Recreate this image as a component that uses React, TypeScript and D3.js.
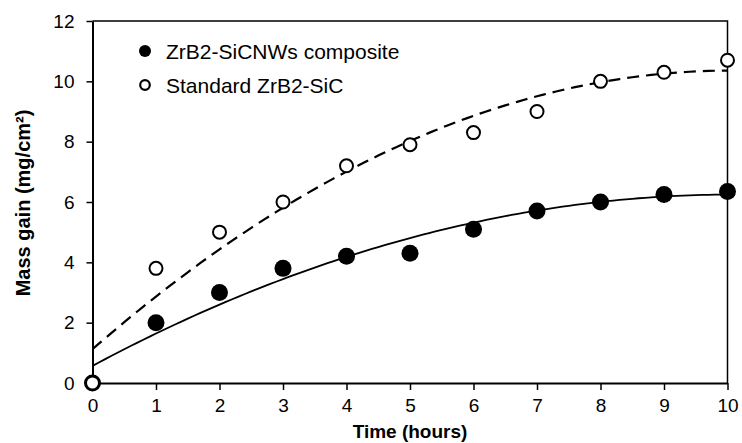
import * as d3 from "d3";
import { useEffect, useRef } from "react";

// ---- data ----
const hours = [0, 1, 2, 3, 4, 5, 6, 7, 8, 9, 10];
const compositeGain = [0, 2.0, 3.0, 3.8, 4.2, 4.3, 5.1, 5.7, 6.0, 6.25, 6.35];
const standardGain = [0, 3.8, 5.0, 6.0, 7.2, 7.9, 8.3, 9.0, 10.0, 10.3, 10.7];
const xTicks = [0, 1, 2, 3, 4, 5, 6, 7, 8, 9, 10];
const yTicks = [0, 2, 4, 6, 8, 10, 12];
const seriesNames = ["ZrB2-SiCNWs composite", "Standard ZrB2-SiC"];

// quadratic least-squares trendline (like the spreadsheet's polynomial fit)
function quadFit(xs: number[], ys: number[]) {
  const s = [0, 0, 0, 0, 0];
  const t = [0, 0, 0];
  xs.forEach((x, i) => {
    for (let k = 0; k < 5; k++) s[k] += Math.pow(x, k);
    for (let k = 0; k < 3; k++) t[k] += Math.pow(x, k) * ys[i];
  });
  const A = [
    [s[0], s[1], s[2], t[0]],
    [s[1], s[2], s[3], t[1]],
    [s[2], s[3], s[4], t[2]],
  ];
  for (let c = 0; c < 3; c++) {
    for (let r = c + 1; r < 3; r++) {
      const f = A[r][c] / A[c][c];
      for (let k = c; k < 4; k++) A[r][k] -= f * A[c][k];
    }
  }
  const b = [0, 0, 0];
  for (let r = 2; r >= 0; r--) {
    let v = A[r][3];
    for (let k = r + 1; k < 3; k++) v -= A[r][k] * b[k];
    b[r] = v / A[r][r];
  }
  return (x: number) => b[0] + b[1] * x + b[2] * x * x;
}

export default function App() {
  const ref = useRef<SVGSVGElement>(null);

  useEffect(() => {
    const width = 742;
    const height = 443;
    const left = 92.5, right = 727.5, top = 21, bottom = 383;
    const font = "Arial, 'Liberation Sans', sans-serif";

    const svg = d3.select(ref.current);
    svg.selectAll("*").remove();
    svg.attr("width", width).attr("height", height);

    const x = d3.scaleLinear().domain([0, 10]).range([left, right]);
    const y = d3.scaleLinear().domain([0, 12]).range([bottom, top]);

    // ---- frame (top/right) ----
    svg.append("path")
      .attr("d", `M${left},${top}H${right}V${bottom}`)
      .attr("fill", "none")
      .attr("stroke", "#000")
      .attr("stroke-width", 1.5);

    // ---- x axis ----
    const gx = svg.append("g").attr("transform", `translate(0,${bottom})`);
    gx.call(
      d3.axisBottom(x).tickValues(d3.range(0, 10.001, 0.2)).tickSize(4).tickFormat(() => "")
    );
    gx.call(d3.axisBottom(x).tickValues(xTicks).tickSize(7).tickSizeOuter(0).tickPadding(9));
    gx.selectAll(".domain").attr("stroke-width", 2);
    gx.selectAll("line").attr("stroke-width", 1.5);
    gx.selectAll("text").attr("font-family", font).attr("font-size", 19).attr("fill", "#000");

    // ---- y axis ----
    const gy = svg.append("g").attr("transform", `translate(${left},0)`);
    gy.call(d3.axisLeft(y).tickValues(yTicks).tickSize(6).tickSizeOuter(0).tickPadding(12));
    gy.selectAll(".domain").attr("stroke-width", 2);
    gy.selectAll("line").attr("stroke-width", 1.5);
    gy.selectAll("text").attr("font-family", font).attr("font-size", 19).attr("fill", "#000");

    // ---- trendlines ----
    const samples = d3.range(0, 10.0001, 0.1);
    const fits = [quadFit(hours, compositeGain), quadFit(hours, standardGain)];
    const line = (f: (v: number) => number) =>
      d3.line<number>().x((d) => x(d)).y((d) => y(f(d)))(samples);

    svg.append("path")
      .attr("d", line(fits[0]))
      .attr("fill", "none")
      .attr("stroke", "#000")
      .attr("stroke-width", 1.8);

    svg.append("path")
      .attr("d", line(fits[1]))
      .attr("fill", "none")
      .attr("stroke", "#000")
      .attr("stroke-width", 2.2)
      .attr("stroke-dasharray", "12,7");

    // ---- points ----
    svg.append("g")
      .selectAll("circle")
      .data(compositeGain)
      .join("circle")
      .attr("cx", (_, i) => x(hours[i]))
      .attr("cy", (d) => y(d))
      .attr("r", 8.5)
      .attr("fill", "#000");

    svg.append("g")
      .selectAll("circle")
      .data(standardGain)
      .join("circle")
      .attr("cx", (_, i) => x(hours[i]))
      .attr("cy", (d) => y(d))
      .attr("r", 6.5)
      .attr("fill", "#fff")
      .attr("stroke", "#000")
      .attr("stroke-width", 2);

    // ---- legend ----
    const lg = svg.append("g").attr("font-family", font).attr("font-size", 21);
    lg.append("circle").attr("cx", 145).attr("cy", 51).attr("r", 6).attr("fill", "#000");
    lg.append("circle").attr("cx", 145).attr("cy", 85).attr("r", 4.8)
      .attr("fill", "#fff").attr("stroke", "#000").attr("stroke-width", 2.2);
    lg.append("text").attr("x", 166).attr("y", 58.5).text(seriesNames[0]);
    lg.append("text").attr("x", 166).attr("y", 92.5).text(seriesNames[1]);

    // ---- axis titles ----
    svg.append("text")
      .attr("x", (left + right) / 2)
      .attr("y", 438)
      .attr("text-anchor", "middle")
      .attr("font-family", font)
      .attr("font-size", 19)
      .attr("font-weight", 700)
      .text("Time (hours)");

    svg.append("text")
      .attr("transform", `translate(30,203) rotate(-90)`)
      .attr("text-anchor", "middle")
      .attr("font-family", font)
      .attr("font-size", 20)
      .attr("font-weight", 700)
      .text("Mass gain (mg/cm²)");
  }, []);

  return (
    <div style={{ position: "absolute", left: 0, top: 0 }}>
      <svg ref={ref} style={{ display: "block", background: "#fff" }} />
    </div>
  );
}
